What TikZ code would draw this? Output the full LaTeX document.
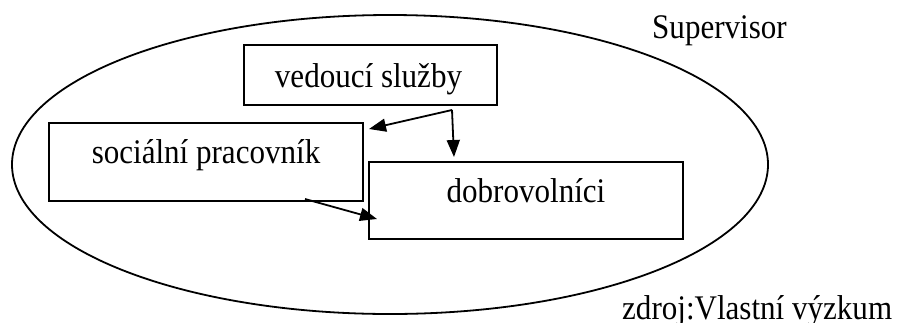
\documentclass[tikz,border=0pt]{standalone}
\usepackage{fontspec}
\setmainfont[FakeStretch=0.9]{Liberation Serif}
\usetikzlibrary{shapes.geometric,arrows.meta}
\begin{document}
\begin{tikzpicture}[x=1pt,y=-1pt,
  boxst/.style={draw,rectangle,inner sep=0pt,line width=1.8pt},
  txt/.style={inner sep=0pt,font=\fontsize{34.5}{38}\selectfont},
  arr/.style={line width=1.8pt,-{Triangle[length=17pt,width=13pt]}}]
\useasboundingbox (0,0) rectangle (901,322);
\node[draw,ellipse,inner sep=0pt,line width=1.8pt,minimum width=756pt,minimum height=299pt] (ell) at (390,164.5) {};
\node[boxst,minimum width=253pt,minimum height=60pt] (ved) at (370.5,75) {};
\node[boxst,minimum width=314pt,minimum height=78pt] (soc) at (206,162) {};
\node[boxst,minimum width=314pt,minimum height=77pt] (dob) at (526,200.5) {};
\node[txt,anchor=base] (tved) at (368.5,87) {vedoucí služby};
\node[txt,anchor=base] (tsoc) at (206,163) {sociální pracovník};
\node[txt,anchor=base] (tdob) at (526,202) {dobrovolníci};
\node[txt,anchor=base west] (sup) at (652,38) {Supervisor};
\node[txt,anchor=base west] (src) at (622,319) {zdroj:Vlastní výzkum};
\coordinate (vstart) at (452,110);
\coordinate (tipsoc) at (369,129);
\coordinate (tipdob) at (454,157);
\coordinate (sstart) at (305,199);
\coordinate (tipdob2) at (377,219);
\draw[arr] (vstart) -- (tipsoc);
\draw[arr] (vstart) -- (tipdob);
\draw[arr] (sstart) -- (tipdob2);
\end{tikzpicture}
\end{document}
